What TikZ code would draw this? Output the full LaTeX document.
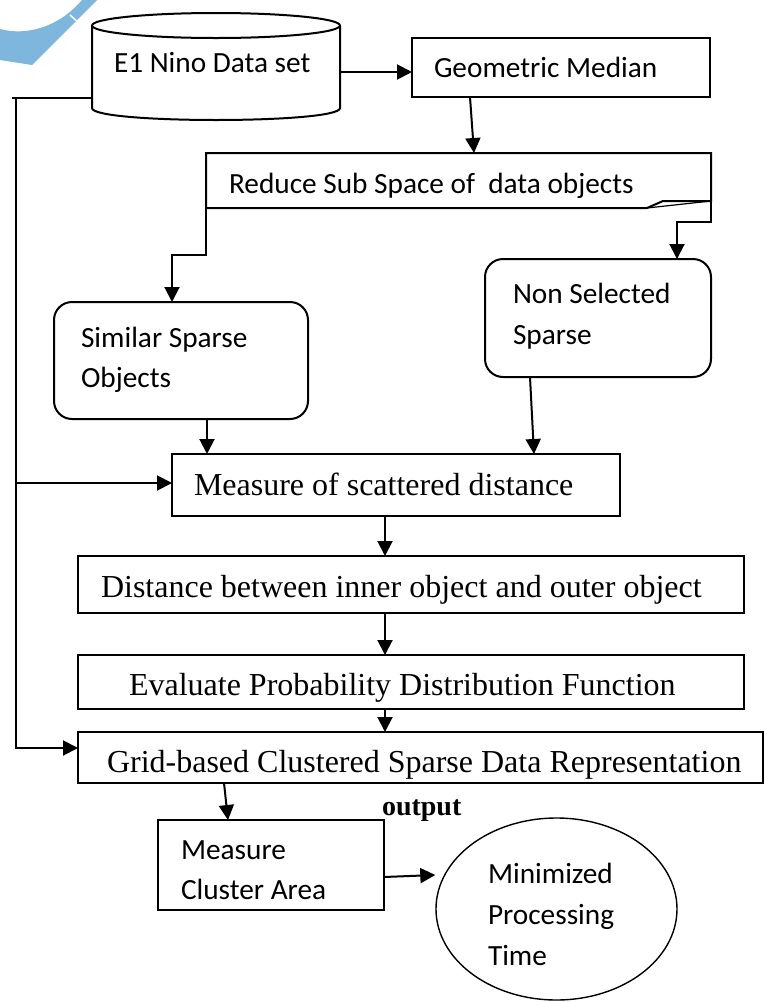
\documentclass[tikz,border=0pt]{standalone}
\usepackage{fontspec}
\setmainfont{Carlito}
\newfontfamily\tnr{Liberation Serif}
\usetikzlibrary{arrows.meta,shapes.geometric}
\definecolor{swoosh}{RGB}{125,183,222}
\begin{document}
\begin{tikzpicture}[x=1pt,y=-1pt,
  line width=2pt,
  arr/.style={-{Triangle[length=15pt,width=15pt]}, line width=2pt},
  bx/.style={draw, line width=2pt, inner sep=0pt, outer sep=0pt, anchor=north west},
  rbx/.style={bx, rounded corners=18pt},
  cal/.style={font=\fontsize{29.3}{35}\selectfont, inner sep=0pt, anchor=base west},
  tms/.style={font=\tnr\fontsize{32}{38}\selectfont, inner sep=0pt, anchor=base west}]
\useasboundingbox (0,0) rectangle (764,1002);
\fill[white] (0,0) rectangle (764,1002);
% watermark swoosh
\fill[swoosh] (0,29) .. controls (30,37) and (62,24) .. (82,0) -- (97,0) -- (32,65) -- (0,60) -- cycle;
\draw[white, line width=1.5pt] (70,15) -- (79,23);
% cylinder
\node[draw=none, minimum width=248pt, minimum height=108pt, anchor=north west, inner sep=0pt, outer sep=0pt] (ds) at (92,13) {};
\draw (216,25.5) ellipse [x radius=124, y radius=12.5];
\draw (92,25.5) -- (92,108) .. controls (92,124) and (340,124) .. (340,108) -- (340,25.5);
% boxes
\node[bx, minimum width=298pt, minimum height=59pt] (gm) at (412,38) {};
\node[draw=none, inner sep=0pt, outer sep=0pt, anchor=north west, minimum width=505pt, minimum height=55pt] (red) at (206,153) {};
\draw (206,153) -- (711,153) -- (711,201) -- (663,201) -- (647,208) -- (206,208) -- cycle;
\draw[line width=1.2pt] (647,208) -- (711,201);
\node[rbx, minimum width=254pt, minimum height=117pt] (sim) at (54,302) {};
\node[rbx, minimum width=226pt, minimum height=118pt] (non) at (485,259) {};
\node[bx, minimum width=448pt, minimum height=62pt] (meas) at (172,454) {};
\node[bx, minimum width=666pt, minimum height=57pt] (dist) at (78,556) {};
\node[bx, minimum width=666pt, minimum height=54pt] (eval) at (78,655) {};
\node[bx, minimum width=685pt, minimum height=51pt] (grid) at (78,732) {};
\draw[line width=2.8pt] (grid.north west) -- (grid.north east);
\node[bx, minimum width=226pt, minimum height=90pt] (mca) at (158,820) {};
\node[draw, ellipse, line width=1.4pt, minimum width=241pt, minimum height=182pt, inner sep=0pt] (ell) at (556.5,909) {};
% texts
\node[cal] (t1) at (113,72) {E1 Nino Data set};
\node[cal] (t2) at (433,77) {Geometric Median};
\node[cal] (t3) at (228,193) {Reduce Sub Space of \ data objects};
\node[cal] (t4a) at (80,347) {Similar Sparse};
\node[cal] (t4b) at (80,387) {Objects};
\node[cal] (t5a) at (512,303) {Non Selected};
\node[cal] (t5b) at (512,344) {Sparse};
\node[tms] (t6) at (193,495) {Measure of scattered distance};
\node[tms] (t7) at (100,597) {Distance between inner object and outer object};
\node[tms] (t8) at (128,695) {Evaluate Probability Distribution Function};
\node[tms] (t9) at (106,772) {Grid-based Clustered Sparse Data Representation};
\node[font=\tnr\bfseries\fontsize{28}{32}\selectfont, anchor=base west, inner sep=0pt] (t10) at (381,815) {output};
\node[cal] (t11a) at (180,859) {Measure};
\node[cal] (t11b) at (180,899) {Cluster Area};
\node[cal] (t12a) at (487,883) {Minimized};
\node[cal] (t12b) at (487,924) {Processing};
\node[cal] (t12c) at (487,965) {Time};
% connectors
\draw[arr] (ds.east |- 0,72) -- (gm.west |- 0,72);
\draw[arr] (gm.south -| 470,0) -- (red.north -| 474,0);
\draw[arr] (red.south west) -- (206,255) -- (172,255) -- (sim.north -| 172,0);
\draw[arr] (red.east |- 0,201) -- (711,222) -- (677,222) -- (non.north -| 677,0);
\draw[arr] (sim.south -| 207,0) -- (meas.north -| 207,0);
\draw[arr] (non.south -| 530,0) -- (meas.north -| 534,0);
\draw[arr] (meas.south -| 385,0) -- (dist.north -| 385,0);
\draw[arr] (dist.south -| 385,0) -- (eval.north -| 385,0);
\draw[arr] (eval.south -| 385,0) -- (grid.north -| 385,0);
\draw (ds.west |- 0,98) -- (12,98);
\draw[arr] (16,98) -- (16,748) -- (grid.west |- 0,748);
\draw[arr] (16,483) -- (meas.west |- 0,483);
\draw[arr] (grid.south -| 224,0) -- (mca.north -| 228,0);
\draw[arr] (mca.east |- 0,877) -- (ell.west |- 0,875);
\end{tikzpicture}
\end{document}
